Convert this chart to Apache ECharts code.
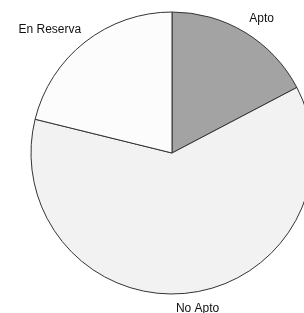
<!DOCTYPE html>
<html>
<head>
<meta charset="utf-8">
<script src="https://cdn.jsdelivr.net/npm/echarts@6/dist/echarts.min.js"></script>
<style>
  html, body { margin: 0; padding: 0; background: #fff; }
  #chart { width: 304px; height: 313px; }
</style>
</head>
<body>
<div id="chart"></div>
<script>
// categories and values, clockwise from 12 o'clock
var categories = ['Apto', 'No Apto', 'En Reserva'];
var values = [9, 32, 11];
var colors = ['#a3a3a3', '#f2f2f2', '#fcfcfc'];
// nudge of each label along its side (px)
var labelGap = [-4, -15, -6];

var myChart = echarts.init(document.getElementById('chart'));

var pieData = categories.map(function (name, i) {
    return {
        name: name,
        value: values[i],
        itemStyle: { color: colors[i] },
        label: { distanceToLabelLine: labelGap[i] }
    };
});

var option = {
    animation: false,
    series: [
        {
            type: 'pie',
            center: [172, 153],
            radius: 141,
            startAngle: 90,
            clockwise: true,
            avoidLabelOverlap: false,
            itemStyle: {
                borderColor: '#333',
                borderWidth: 1
            },
            label: {
                show: true,
                position: 'outside',
                formatter: '{b}',
                fontFamily: 'Liberation Sans, Arial, sans-serif',
                fontSize: 12,
                color: '#111'
            },
            labelLine: {
                show: false,
                length: 16,
                length2: 0
            },
            emphasis: { disabled: true },
            data: pieData
        }
    ]
};

myChart.setOption(option);
</script>
</body>
</html>
